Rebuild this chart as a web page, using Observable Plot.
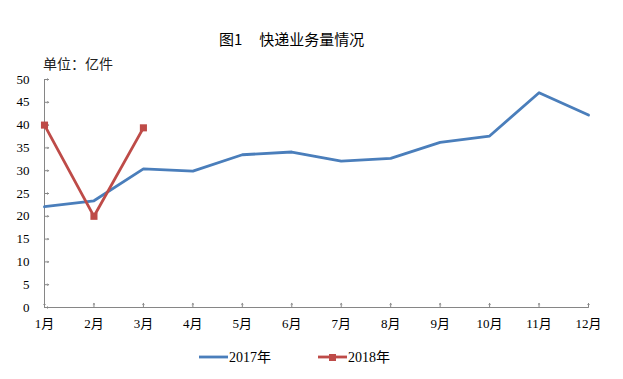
<!DOCTYPE html>
<html><head><meta charset="utf-8">
<script src="https://cdn.jsdelivr.net/npm/d3@7"></script>
<script src="https://cdn.jsdelivr.net/npm/@observablehq/plot@0.6"></script>
<style>
body{margin:0;background:#fff;}
#wrap{position:relative;width:623px;height:379px;overflow:hidden;}
.t{position:absolute;white-space:nowrap;color:#000;}
#title{left:219px;top:28px;font:15px "Noto Sans CJK SC","Liberation Sans",sans-serif;}
#unit{left:43px;top:53px;font:14px "Noto Sans CJK SC",sans-serif;color:#222;}
#legend{position:absolute;left:0;top:347px;width:623px;height:20px;}
#chart svg text, #legend text{font-family:"Liberation Serif","DejaVu Serif","Noto Sans CJK SC",serif !important;}
</style>
</head><body>
<div id="wrap">
<div id="chart"></div>
<div class="t" id="title">图1&nbsp;&nbsp;&nbsp;&nbsp;&nbsp;快递业务量情况</div>
<div class="t" id="unit">单位：亿件</div>
<svg id="legend" width="623" height="20"></svg>
</div>
<script>
const months = ["1月","2月","3月","4月","5月","6月","7月","8月","9月","10月","11月","12月"];
const v2017 = [22.1, 23.4, 30.4, 29.9, 33.5, 34.1, 32.1, 32.7, 36.2, 37.6, 47.1, 42.2];
const months2018 = ["1月","2月","3月"];
const v2018 = [40.0, 20.0, 39.4];
const yTicks = [0,5,10,15,20,25,30,35,40,45,50];
const seriesNames = ["2017年","2018年"];
const colors = ["#4a7ebb","#be4b48"];

const d17 = months.map((m,i)=>({m, v:v2017[i]}));
const d18 = months2018.map((m,i)=>({m, v:v2018[i]}));
const axisColor = "#868686";

const chart = Plot.plot({
  width: 623, height: 379,
  marginLeft: 44, marginRight: 35, marginTop: 79, marginBottom: 72,
  style: {fontSize: "13px", color: "#000", background: "#fff"},
  x: {type: "point", domain: months, padding: 0, round: false, label: null},
  y: {domain: [0, 50], label: null},
  marks: [
    Plot.axisY({ticks: yTicks, tickSize: 0, tickPadding: 15, fontSize: 13, fill: "#000", label: null}),
    Plot.axisX({tickSize: 0, tickPadding: 11, fontSize: 13, fill: "#000", label: null}),
    Plot.ruleX([months[0]], {y1: 0, y2: 50, stroke: axisColor, strokeWidth: 1}),
    Plot.ruleY([0], {stroke: axisColor, strokeWidth: 1}),
    Plot.vector(yTicks, {x: () => months[0], y: d => d, length: 4, rotate: 90, anchor: "start", stroke: axisColor, strokeWidth: 1}),
    Plot.vector(months, {x: d => d, y: () => 0, length: 4, rotate: 0, anchor: "start", stroke: axisColor, strokeWidth: 1}),
    Plot.line(d17, {x: "m", y: "v", stroke: colors[0], strokeWidth: 2.8}),
    Plot.line(d18, {x: "m", y: "v", stroke: colors[1], strokeWidth: 2.8}),
    Plot.dot(d18, {x: "m", y: "v", symbol: "square", r: 4, fill: colors[1], stroke: "none"})
  ]
});
document.getElementById("chart").append(chart);

// legend
const lg = d3.select("#legend");
const items = [{x:199, name: seriesNames[0], c: colors[0], marker:false},{x:318, name: seriesNames[1], c: colors[1], marker:true}];
items.forEach(it=>{
  lg.append("line").attr("x1",it.x).attr("x2",it.x+29).attr("y1",10).attr("y2",10).attr("stroke",it.c).attr("stroke-width",2.8);
  if(it.marker) lg.append("rect").attr("x",it.x+11).attr("y",7).attr("width",7).attr("height",7).attr("fill",it.c);
  lg.append("text").attr("x",it.x+30).attr("y",10).attr("dy","0.35em").attr("font-size",14).attr("fill","#000").text(it.name);
});
</script>
</body></html>
